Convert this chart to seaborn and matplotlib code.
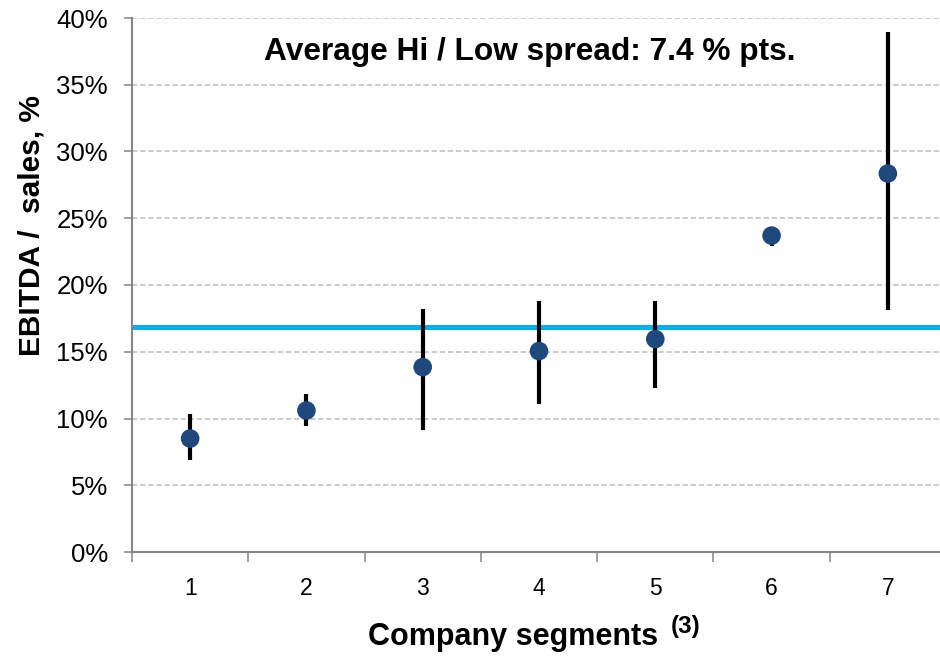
import matplotlib
matplotlib.use("Agg")
import matplotlib.pyplot as plt
import seaborn as sns
import pandas as pd
from matplotlib.ticker import FixedLocator, FuncFormatter

# ---- data ----
segments = [1, 2, 3, 4, 5, 6, 7]
ebitda_mid = [8.5, 10.6, 13.85, 15.05, 15.95, 23.7, 28.35]
ebitda_high = [10.3, 11.8, 18.2, 18.8, 18.8, 23.9, 38.95]
ebitda_low = [6.9, 9.45, 9.15, 11.1, 12.3, 22.95, 18.1]
average_line = 16.85
y_ticks = [0, 5, 10, 15, 20, 25, 30, 35, 40]
annotation = "Average Hi / Low spread: 7.4 % pts."
x_title = "Company segments"
x_title_note = "(3)"
y_title = "EBITDA /  sales, %"

df = pd.DataFrame({"segment": segments, "mid": ebitda_mid,
                   "low": ebitda_low, "high": ebitda_high})

sns.set_theme(style="white")
plt.rcParams["font.family"] = ["Liberation Sans", "DejaVu Sans"]

fig = plt.figure(figsize=(9.4, 6.58), dpi=100)
W, H = 940, 658
ax = fig.add_axes([132 / W, (H - 552) / H, 814 / W, 534 / H])

# grid
for yv in y_ticks[1:]:
    ax.axhline(yv, color="#BFBFBF", lw=1.1, ls=(0, (3.5, 1.8)), zorder=0)

# average line
ax.axhline(average_line, color="#00B0F0", lw=3.6, zorder=1)

# hi/low bars
ax.vlines(df["segment"], df["low"], df["high"], color="black", lw=3.0, zorder=2)

# points
sns.scatterplot(data=df, x="segment", y="mid", ax=ax, s=180, color="#1F497D",
                edgecolor="none", zorder=3, legend=False)

ax.set_xlim(0.5, 7.5)
ax.set_ylim(0, 40)

ax.yaxis.set_major_locator(FixedLocator(y_ticks))
ax.yaxis.set_major_formatter(FuncFormatter(lambda v, p: f"{int(v)}%"))
ax.xaxis.set_major_locator(FixedLocator(segments))
ax.xaxis.set_minor_locator(FixedLocator([s - 0.5 for s in segments] + [7.5]))

ax.tick_params(axis="y", which="major", direction="out", length=5.8, width=1.1,
               color="#868686", pad=11.5, labelsize=18.5, labelcolor="black", left=True)
ax.tick_params(axis="x", which="major", length=0, pad=18, labelsize=16.5,
               labelcolor="black", bottom=True)
ax.tick_params(axis="x", which="minor", direction="out", length=7, width=1.1,
               color="#868686", bottom=True)

for side in ["top", "right"]:
    ax.spines[side].set_visible(False)
for side in ["left", "bottom"]:
    ax.spines[side].set_color("#868686")
    ax.spines[side].set_linewidth(1.5)

ax.set_xlabel(x_title, fontsize=22, fontweight="bold", color="black")
ax.set_ylabel(y_title, fontsize=21.5, fontweight="bold", color="black")
ax.xaxis.label.set_verticalalignment("baseline")
ax.yaxis.label.set_verticalalignment("center")
ax.xaxis.set_label_coords(0.4687, -0.174)
ax.yaxis.set_label_coords(-0.123, 0.612)

# superscript note of the x title
ax.text(0.662, -0.152, x_title_note, transform=ax.transAxes, ha="left",
        va="baseline", fontsize=17.5, fontweight="bold", color="black")

ax.text(3.918, 36.85, annotation, ha="center", va="baseline", fontsize=22.8,
        fontweight="bold", color="black")

fig.savefig("out.png", dpi=100)
